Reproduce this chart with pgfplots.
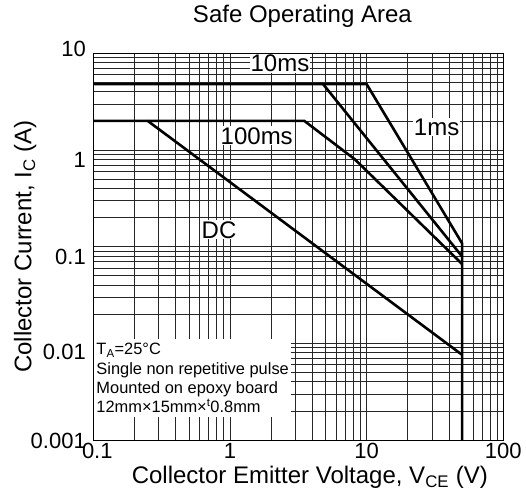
\documentclass[border=0pt]{standalone}
\usepackage{fontspec}
\setmainfont{Liberation Sans}
\usepackage{pgfplots}
\pgfplotsset{compat=1.18}
\newcommand{\bigf}{\fontsize{24bp}{28bp}\selectfont}
\newcommand{\tickf}{\fontsize{22bp}{26bp}\selectfont}
\newcommand{\smallf}{\fontsize{16.4bp}{19.4bp}\selectfont}
\newcommand{\lowered}[2]{\raisebox{#1}[\height][\depth]{#2}}
\begin{document}
\begin{tikzpicture}
\begin{axis}[
  at={(0,0)}, anchor=south west,
  scale only axis,
  width=410bp, height=386.7bp,
  xmode=log, ymode=log,
  xmin=0.1, xmax=100, ymin=0.001, ymax=10,
  xtick={0.1,1,10,100},
  xticklabels={\hspace{8bp}0.1,1,10,100},
  ytick={0.001,0.01,0.1,1,10},
  yticklabels={\lowered{-1bp}{0.001},\lowered{-9bp}{0.01},\lowered{-10bp}{0.1},\lowered{-10bp}{1},\lowered{4bp}{10}},
  minor xtick={0.2,0.3,0.4,0.5,0.6,0.7,0.8,0.9,2,3,4,5,6,7,8,9,20,30,40,50,60,70,80,90},
  minor ytick={0.002,0.003,0.004,0.005,0.006,0.007,0.008,0.009,0.02,0.03,0.04,0.05,0.06,0.07,0.08,0.09,0.2,0.3,0.4,0.5,0.6,0.7,0.8,0.9,2,3,4,5,6,7,8,9},
  grid=both,
  major grid style={black!85, line width=0.6bp},
  minor grid style={black!85, line width=0.6bp},
  major tick length=0pt, minor tick length=0pt,
  axis line style={black, line width=1bp},
  /pgf/number format/assume math mode=true,
  ticklabel style={font=\tickf},
  yticklabel style={xshift=-4bp},
  title={Safe Operating Area},
  title style={at={(axis description cs:0.51,1.08)}, anchor=center, font=\bigf},
  xlabel={Collector Emitter Voltage, V\textsubscript{CE} (V)},
  xlabel style={at={(axis description cs:0.528,-0.096)}, anchor=center, font=\bigf},
  ylabel={Collector Current, I\textsubscript{C} (A)},
  ylabel style={at={(axis description cs:-0.166,0.5)}, anchor=center, rotate=0, font=\bigf},
]
% 1 ms (with the 50 V limit)
\addplot[black, line width=2.6bp, line join=miter] coordinates {(0.1,4.8) (10,4.8) (50,0.108) (50,0.001)};
% 10 ms
\addplot[black, line width=2.6bp] coordinates {(4.8,4.8) (50,0.079)};
% 100 ms
\addplot[black, line width=2.6bp, line join=miter] coordinates {(0.1,2) (3.5,2) (8.2,0.80) (50,0.066)};
% DC
\addplot[black, line width=2.6bp] coordinates {(0.25,2) (50,0.0076)};

\node[fill=white, inner sep=1bp, font=\bigf] at (axis cs:2.32,7.9) {10ms};
\node[fill=white, inner sep=1bp, font=\bigf] at (axis cs:32.5,1.73) {1ms};
\node[fill=white, inner sep=1bp, font=\bigf] at (axis cs:1.57,1.40) {100ms};
\node[fill=white, inner sep=1bp, font=\bigf] at (axis cs:0.832,0.149) {DC};
\node[fill=white, anchor=north west, align=left, inner xsep=2bp, inner ysep=4bp, font=\smallf]
  at ([xshift=1bp,yshift=101bp]rel axis cs:0,0)
  {T\textsubscript{A}=25°C\\Single non repetitive pulse\\Mounted on epoxy board\\12mm×15mm×\textsuperscript{t}0.8mm};
\end{axis}
\pgfresetboundingbox
\path[use as bounding box] (-93.3bp,-58bp) rectangle (432.7bp,440bp);
\end{tikzpicture}
\end{document}
